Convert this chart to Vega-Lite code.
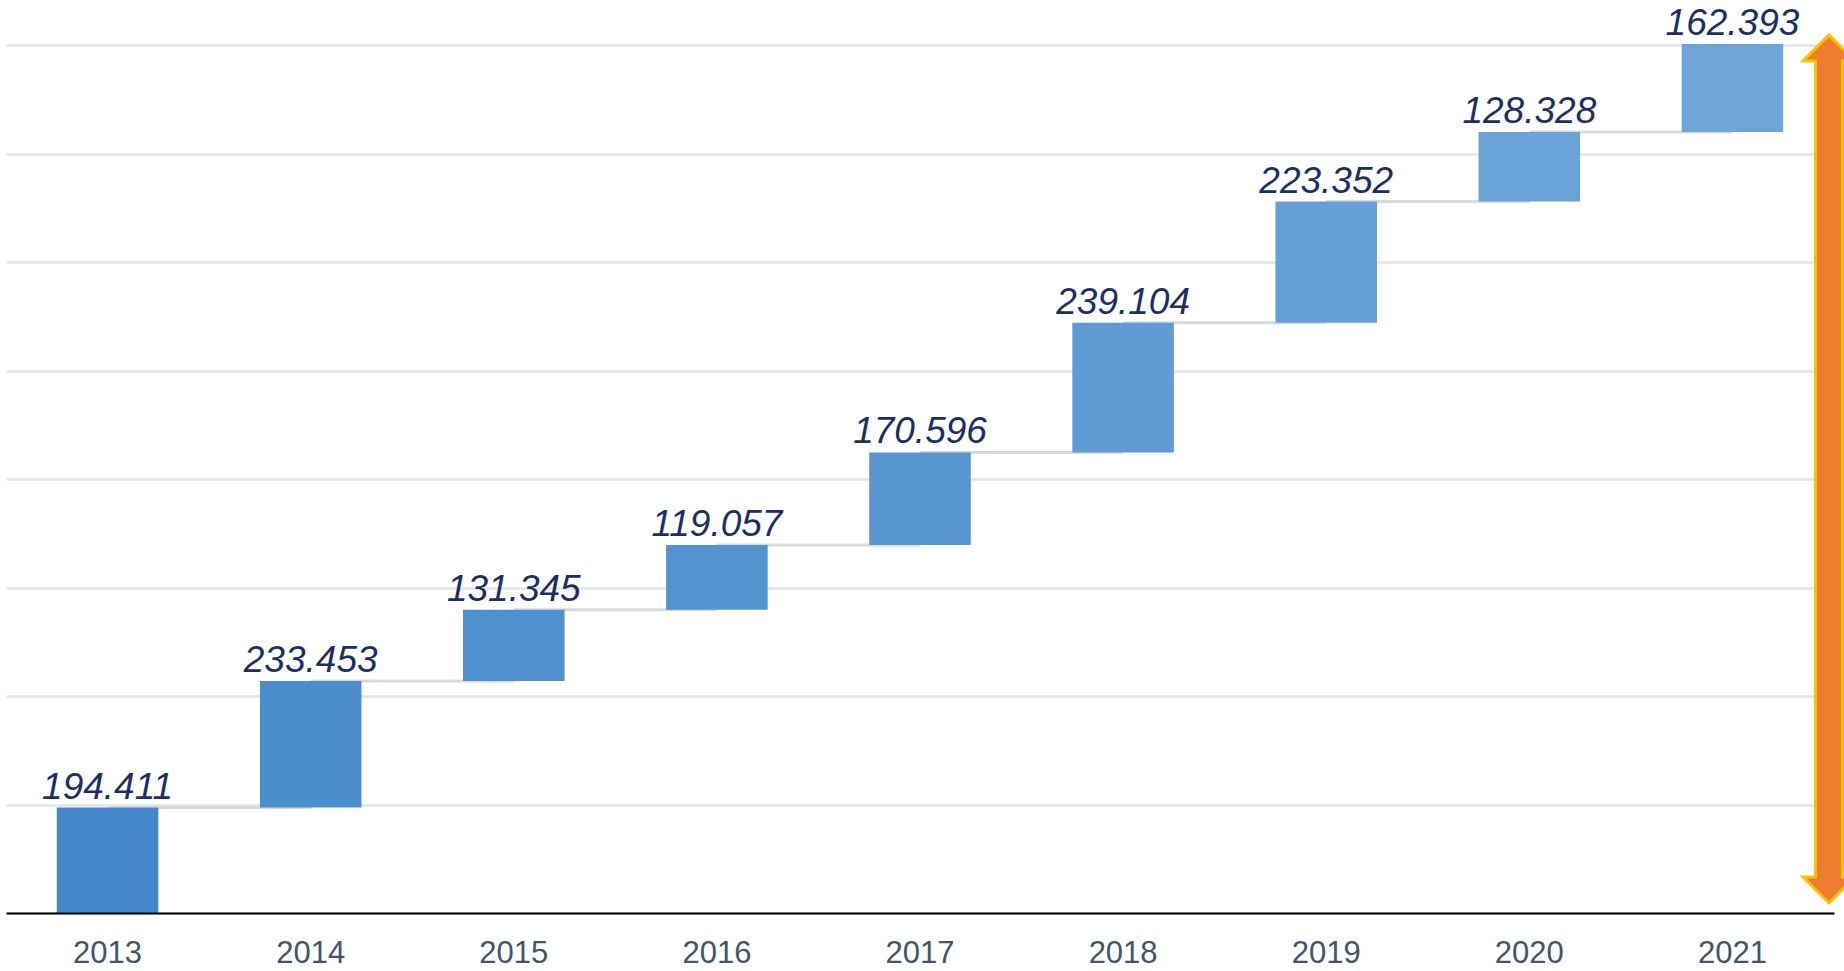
{
  "$schema": "https://vega.github.io/schema/vega-lite/v6.json",
  "width": 1828,
  "height": 868,
  "autosize": {"type": "none"},
  "padding": {"left": 6, "top": 45, "right": 10, "bottom": 58},
  "background": "white",
  "config": {"view": {"stroke": null}, "font": "Liberation Sans"},
  "data": {
    "values": [
      {"year": "2013", "value": 194.411, "start": 0, "end": 194.411, "next": "2014"},
      {"year": "2014", "value": 233.453, "start": 194.411, "end": 427.864, "next": "2015"},
      {"year": "2015", "value": 131.345, "start": 427.864, "end": 559.209, "next": "2016"},
      {"year": "2016", "value": 119.057, "start": 559.209, "end": 678.266, "next": "2017"},
      {"year": "2017", "value": 170.596, "start": 678.266, "end": 848.862, "next": "2018"},
      {"year": "2018", "value": 239.104, "start": 848.862, "end": 1087.966, "next": "2019"},
      {"year": "2019", "value": 223.352, "start": 1087.966, "end": 1311.318, "next": "2020"},
      {"year": "2020", "value": 128.328, "start": 1311.318, "end": 1439.646, "next": "2021"},
      {"year": "2021", "value": 162.393, "start": 1439.646, "end": 1602.039, "next": null}
    ]
  },
  "encoding": {
    "x": {
      "field": "year",
      "type": "nominal",
      "sort": null,
      "scale": {"paddingInner": 0.5, "paddingOuter": 0.25},
      "axis": {
        "title": null,
        "labelAngle": 0,
        "ticks": false,
        "domain": true,
        "domainColor": "#000000",
        "domainWidth": 2,
        "labelFontSize": 31,
        "labelColor": "#44546A",
        "labelPadding": 25,
        "labelFont": "Liberation Sans",
        "zindex": 1
      }
    }
  },
  "layer": [
    {
      "transform": [{"filter": "datum.next != null"}],
      "mark": {"type": "rule", "color": "#D9D9D9", "strokeWidth": 3},
      "encoding": {
        "x2": {"field": "next"},
        "y": {
          "field": "end",
          "type": "quantitative",
          "scale": {"domain": [0, 1600], "nice": false, "zero": true},
          "axis": {
            "title": null,
            "labels": false,
            "ticks": false,
            "domain": false,
            "grid": true,
            "gridColor": "#E3E5E8",
            "gridWidth": 2.5,
            "values": [0, 200, 400, 600, 800, 1000, 1200, 1400, 1600]
          }
        }
      }
    },
    {
      "mark": {"type": "bar"},
      "encoding": {
        "y": {"field": "end", "type": "quantitative"},
        "y2": {"field": "start"},
        "color": {
          "field": "end",
          "type": "quantitative",
          "scale": {"domain": [194, 1602], "range": ["#4389CA", "#6FA6DA"]},
          "legend": null
        }
      }
    },
    {
      "mark": {
        "type": "text",
        "baseline": "alphabetic",
        "align": "center",
        "dy": -9,
        "fontSize": 37,
        "fontStyle": "italic",
        "font": "Liberation Sans",
        "color": "#1B2F66"
      },
      "encoding": {
        "y": {"field": "end", "type": "quantitative"},
        "text": {"field": "value", "type": "quantitative", "format": ".3f"}
      }
    },
    {
      "data": {"values": [{"year": "2021", "top": 1602.039, "bottom": 0}]},
      "layer": [
        {
          "mark": {"type": "rule", "color": "#FFC000", "strokeWidth": 30, "strokeCap": "butt", "yOffset": 16, "y2Offset": -35},
          "encoding": {
            "x": {"field": "year", "type": "nominal", "bandPosition": 1.45},
            "y": {"field": "top", "type": "quantitative"},
            "y2": {"field": "bottom"}
          }
        },
        {
          "mark": {"type": "point", "shape": "M 0 0 L 1 1 L -1 1 Z", "size": 2704, "filled": true, "fill": "#ED7D31", "stroke": "#FFC000", "strokeWidth": 3, "opacity": 1, "yOffset": -9},
          "encoding": {
            "x": {"field": "year", "type": "nominal", "bandPosition": 1.45},
            "y": {"field": "top", "type": "quantitative"}
          }
        },
        {
          "mark": {"type": "point", "shape": "M 0 0 L 1 -1 L -1 -1 Z", "size": 2704, "filled": true, "fill": "#ED7D31", "stroke": "#FFC000", "strokeWidth": 3, "opacity": 1, "yOffset": -10},
          "encoding": {
            "x": {"field": "year", "type": "nominal", "bandPosition": 1.45},
            "y": {"field": "bottom", "type": "quantitative"}
          }
        },
        {
          "mark": {"type": "rule", "color": "#ED7D31", "strokeWidth": 24, "strokeCap": "butt", "yOffset": 12, "y2Offset": -31},
          "encoding": {
            "x": {"field": "year", "type": "nominal", "bandPosition": 1.45},
            "y": {"field": "top", "type": "quantitative"},
            "y2": {"field": "bottom"}
          }
        }
      ]
    }
  ]
}
